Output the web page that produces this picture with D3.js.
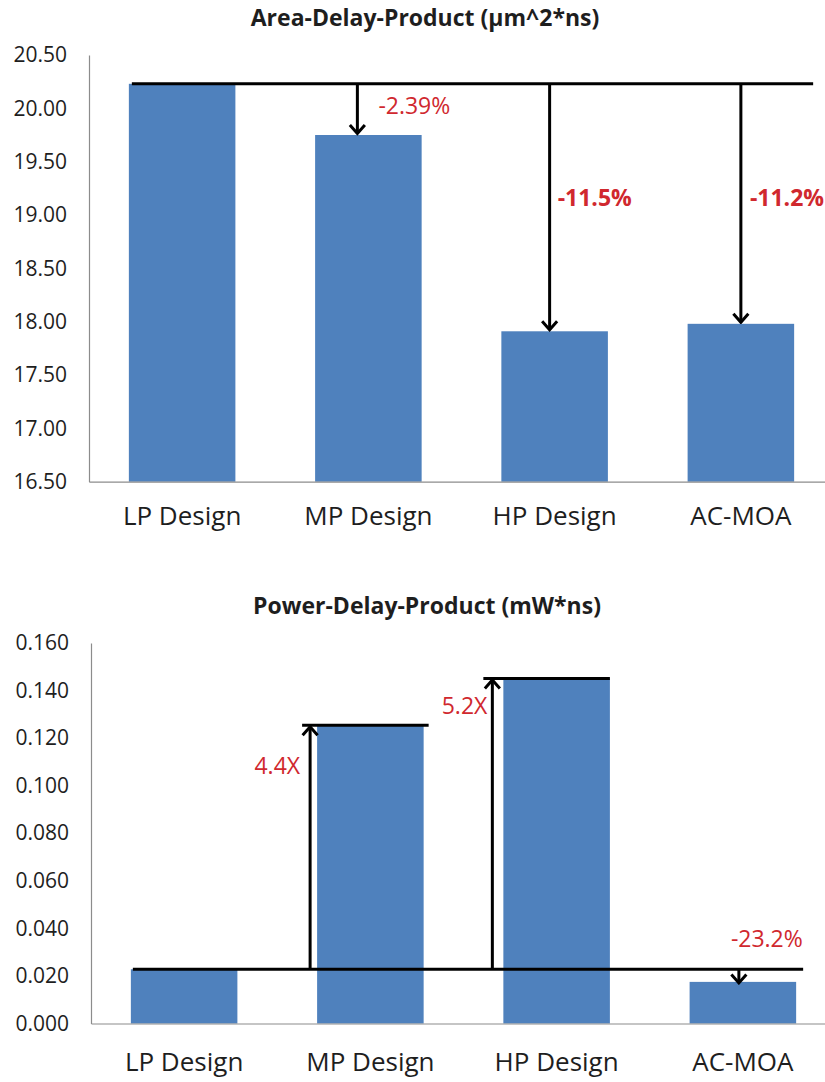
<!DOCTYPE html>
<html>
<head>
<meta charset="utf-8">
<script src="https://cdn.jsdelivr.net/npm/d3@7"></script>
<style>
  html, body { margin: 0; padding: 0; background: #fff; }
  svg { display: block; font-family: "Open Sans", "Noto Sans", sans-serif; }
</style>
</head>
<body>
<svg id="chart" width="825" height="1082"></svg>
<script>
// Design variants compared in both panels
const categories = ["LP Design", "MP Design", "HP Design", "AC-MOA"];

// Area-Delay-Product (µm^2*ns)
const adpValues = [20.23, 19.75, 17.91, 17.98];
const adpTicks = [16.5, 17.0, 17.5, 18.0, 18.5, 19.0, 19.5, 20.0, 20.5];

// Power-Delay-Product (mW*ns)
const pdpValues = [0.0228, 0.1254, 0.1451, 0.0175];
const pdpTicks = [0, 0.02, 0.04, 0.06, 0.08, 0.1, 0.12, 0.14, 0.16];

// Change relative to the LP design
const adpNotes = ["", "-2.39%", "-11.5%", "-11.2%"];
const pdpNotes = ["", "4.4X", "5.2X", "-23.2%"];

const BAR = "#4F81BD", AXIS = "#8C8C8C", TEXT = "#1E1E1E", RED = "#D0282E", INK = "#000";
const NOTE_SIZE = 23;
const svg = d3.select("#chart");

const defs = svg.append("defs");
// open chevron arrowhead
defs.append("marker")
  .attr("id", "chev")
  .attr("viewBox", "-10 -10 12 20")
  .attr("refX", 0).attr("refY", 0)
  .attr("markerWidth", 12).attr("markerHeight", 20)
  .attr("markerUnits", "userSpaceOnUse")
  .attr("orient", "auto")
  .append("path")
  .attr("d", "M-8.5,-7.5 L0,0 L-8.5,7.5")
  .attr("fill", "none").attr("stroke", INK).attr("stroke-width", 3);

function panel(cfg) {
  const g = svg.append("g");
  const x = d3.scaleBand().domain(categories)
    .range(cfg.xRange).paddingInner(0.428).paddingOuter(0.214);
  const y = d3.scaleLinear().domain(cfg.domain).range(cfg.yRange);

  // title
  g.append("text")
    .attr("x", cfg.titleX).attr("y", cfg.titleY)
    .attr("text-anchor", "middle").attr("dominant-baseline", "central")
    .attr("font-weight", "bold").attr("font-size", 23).attr("fill", TEXT)
    .text(cfg.title);

  // bars
  g.selectAll("rect.bar").data(cfg.values).join("rect")
    .attr("class", "bar")
    .attr("x", (d, i) => x(categories[i]))
    .attr("width", x.bandwidth())
    .attr("y", d => y(d))
    .attr("height", d => y(cfg.domain[0]) - y(d))
    .attr("fill", BAR);

  // y axis
  const ya = g.append("g")
    .attr("transform", `translate(${cfg.xRange[0]},0)`)
    .call(d3.axisLeft(y).tickValues(cfg.ticks).tickFormat(d3.format(cfg.fmt)).tickSize(0).tickPadding(22));
  ya.select(".domain").attr("stroke", AXIS).attr("stroke-width", 1.2);
  ya.selectAll("text").attr("font-size", 21).attr("fill", TEXT)
    .attr("font-family", "'Open Sans', sans-serif");

  // x axis
  const xa = g.append("g")
    .attr("transform", `translate(0,${cfg.yRange[0]})`)
    .call(d3.axisBottom(x).tickSize(0).tickPadding(cfg.catPad));
  xa.select(".domain").attr("stroke", AXIS).attr("stroke-width", 1.2);
  xa.selectAll("text").attr("font-size", 26).attr("fill", TEXT)
    .attr("font-family", "'Open Sans', sans-serif");

  return { g, x, y };
}

// ---------- Area-Delay-Product ----------
{
  const { g, x, y } = panel({
    title: "Area-Delay-Product (µm^2*ns)", titleX: 425, titleY: 17,
    values: adpValues, ticks: adpTicks, domain: [16.5, 20.5],
    xRange: [89, 834], yRange: [481.7, 55], fmt: ".2f", catPad: 25
  });
  const bw = x.bandwidth();
  const ref = y(adpValues[0]);
  // reference level of the LP design
  g.append("line")
    .attr("x1", x(categories[0]) + 3).attr("x2", x(categories[3]) + bw + 19)
    .attr("y1", ref).attr("y2", ref)
    .attr("stroke", INK).attr("stroke-width", 3);

  // per-note layout: arrow offset from bar centre, label offset from arrow, label centre value, weight
  const layout = [null,
    { dx: -11, lx: 21, ly: 20.03, bold: false },
    { dx: -5, lx: 8, ly: 19.17, bold: true },
    { dx: 0, lx: 9, ly: 19.17, bold: true }];
  adpNotes.forEach((note, i) => {
    if (!note) return;
    const L = layout[i];
    const ax = x(categories[i]) + bw / 2 + L.dx;
    g.append("line")
      .attr("x1", ax).attr("x2", ax)
      .attr("y1", ref).attr("y2", y(adpValues[i]) - 1.5)
      .attr("stroke", INK).attr("stroke-width", 3)
      .attr("marker-end", "url(#chev)");
    g.append("text")
      .attr("x", ax + L.lx).attr("y", y(L.ly))
      .attr("dominant-baseline", "central")
      .attr("font-size", NOTE_SIZE).attr("font-weight", L.bold ? "bold" : "normal")
      .attr("fill", RED).text(note);
  });
}

// ---------- Power-Delay-Product ----------
{
  const { g, x, y } = panel({
    title: "Power-Delay-Product (mW*ns)", titleX: 427, titleY: 605,
    values: pdpValues, ticks: pdpTicks, domain: [0, 0.16],
    xRange: [91, 836], yRange: [1023.5, 643], fmt: ".3f", catPad: 29
  });
  const bw = x.bandwidth();
  const ref = y(pdpValues[0]);
  g.append("line")
    .attr("x1", x(categories[0]) + 2).attr("x2", x(categories[3]) + bw + 7)
    .attr("y1", ref).attr("y2", ref)
    .attr("stroke", INK).attr("stroke-width", 3);

  // rising designs: cap line over the bar and an up arrow from the LP level
  const up = [null,
    { cap: [-15, 5], ax: -7, lx: -10, ly: 0.1085 },
    { cap: [-20, 0], ax: -11, lx: -5, ly: 0.1340 }];
  [1, 2].forEach(i => {
    const L = up[i];
    const bx = x(categories[i]);
    const top = y(pdpValues[i]);
    g.append("line")
      .attr("x1", bx + L.cap[0]).attr("x2", bx + bw + L.cap[1])
      .attr("y1", top).attr("y2", top)
      .attr("stroke", INK).attr("stroke-width", 3);
    const ax = bx + L.ax;
    g.append("line")
      .attr("x1", ax).attr("x2", ax)
      .attr("y1", ref).attr("y2", top + 1.5)
      .attr("stroke", INK).attr("stroke-width", 3)
      .attr("marker-end", "url(#chev)");
    g.append("text")
      .attr("x", ax + L.lx).attr("y", y(L.ly))
      .attr("text-anchor", "end").attr("dominant-baseline", "central")
      .attr("font-size", NOTE_SIZE).attr("fill", RED).text(pdpNotes[i]);
  });

  // falling design: short down arrow and label above the reference line
  {
    const i = 3;
    const ax = x(categories[i]) + bw / 2 - 4;
    g.append("line")
      .attr("x1", ax).attr("x2", ax)
      .attr("y1", ref).attr("y2", y(pdpValues[i]) + 1)
      .attr("stroke", INK).attr("stroke-width", 3)
      .attr("marker-end", "url(#chev)");
    g.append("text")
      .attr("x", ax - 8).attr("y", y(0.0360))
      .attr("dominant-baseline", "central")
      .attr("font-size", NOTE_SIZE).attr("fill", RED).text(pdpNotes[i]);
  }
}
</script>
</body>
</html>
